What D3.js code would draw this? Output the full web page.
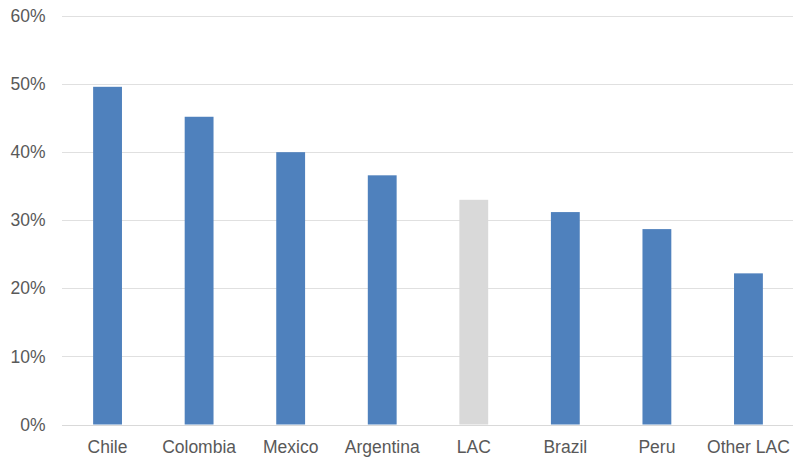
<!DOCTYPE html>
<html><head><meta charset="utf-8">
<script src="https://cdn.jsdelivr.net/npm/d3@7"></script>
<style>body{margin:0;background:#fff}svg{display:block}</style>
</head><body><svg id="c" width="793" height="457"></svg>
<script>
const categories = ["Chile","Colombia","Mexico","Argentina","LAC","Brazil","Peru","Other LAC"];
const values = [0.496, 0.452, 0.400, 0.366, 0.330, 0.312, 0.287, 0.222];
const highlight = ["LAC"];
const yTicks = [0,0.1,0.2,0.3,0.4,0.5,0.6];

const svg = d3.select("#c");
const x = d3.scaleBand().domain(categories).range([62,794]).paddingInner(0.685).paddingOuter(0.34);
const y = d3.scaleLinear().domain([0,0.6]).range([424.5,16]);
const font = "'Liberation Sans', Arial, sans-serif";

svg.append("g").selectAll("line").data(yTicks).join("line")
  .attr("x1",62).attr("x2",793)
  .attr("y1",d=>Math.round(y(d))+0.5).attr("y2",d=>Math.round(y(d))+0.5)
  .attr("stroke",d=>d===0?"#d9d9d9":"#e0e0e0").attr("stroke-width",1);

svg.append("g").selectAll("text").data(yTicks).join("text")
  .attr("x",45.5).attr("y",d=>y(d)).attr("dy","0.35em")
  .attr("text-anchor","end").attr("font-family",font).attr("font-size",17.5)
  .attr("fill","#595959").text(d3.format(".0%"));

svg.append("g").selectAll("rect").data(categories).join("rect")
  .attr("x",d=>x(d)).attr("width",x.bandwidth())
  .attr("y",(d,i)=>y(values[i])).attr("height",(d,i)=>y(0)-y(values[i]))
  .attr("fill",d=>highlight.includes(d)?"#d9d9d9":"#4f81bd");

svg.append("g").selectAll("text").data(categories).join("text")
  .attr("x",d=>x(d)+x.bandwidth()/2).attr("y",452.5)
  .attr("text-anchor","middle").attr("font-family",font).attr("font-size",17.5)
  .attr("fill","#595959").text(d=>d);
</script></body></html>
